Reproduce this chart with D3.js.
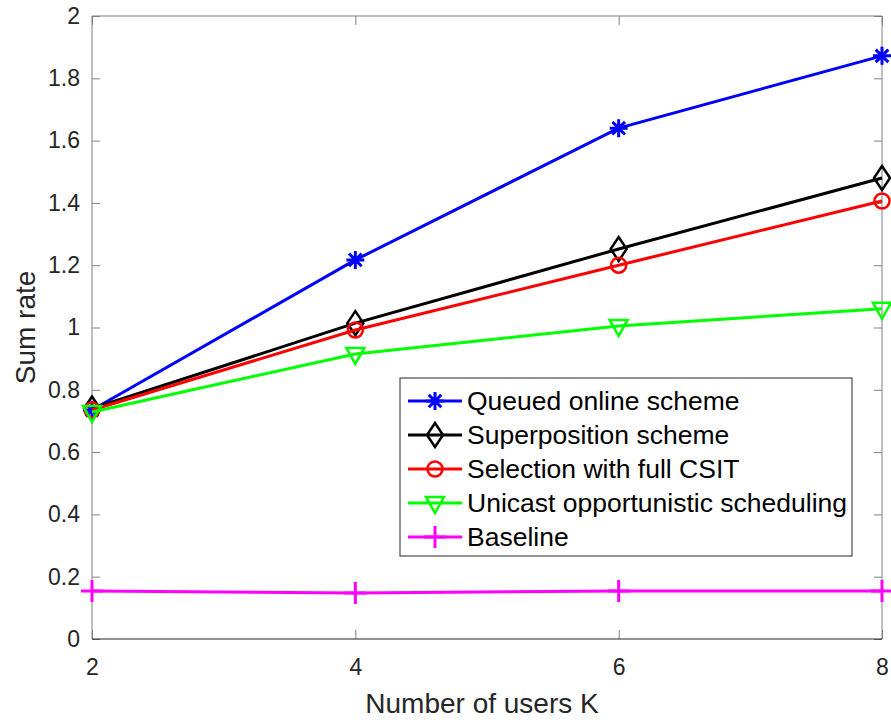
<!DOCTYPE html>
<html>
<head>
<meta charset="utf-8">
<script src="https://cdn.jsdelivr.net/npm/d3@7"></script>
<style>
  body { margin: 0; background: #fff; }
  text { font-family: "Liberation Sans", Arial, sans-serif; }
</style>
</head>
<body>
<div id="chart"></div>
<script>
// data
const users = [2, 4, 6, 8];
const queued = [0.735, 1.217, 1.64, 1.872];
const superposition = [0.74, 1.014, 1.252, 1.48];
const selection = [0.735, 0.992, 1.20, 1.406];
const unicast = [0.729, 0.915, 1.005, 1.06];
const baseline = [0.154, 0.148, 0.154, 0.154];
const xTicks = [2, 4, 6, 8];
const yTicks = [0, 0.2, 0.4, 0.6, 0.8, 1, 1.2, 1.4, 1.6, 1.8, 2];
const seriesNames = ["Queued online scheme", "Superposition scheme", "Selection with full CSIT",
                     "Unicast opportunistic scheduling", "Baseline"];

const series = [
  {name: seriesNames[0], values: queued, color: "#0000ff", marker: "star"},
  {name: seriesNames[1], values: superposition, color: "#000000", marker: "diamond"},
  {name: seriesNames[2], values: selection, color: "#ff0000", marker: "circle"},
  {name: seriesNames[3], values: unicast, color: "#00ff00", marker: "tri"},
  {name: seriesNames[4], values: baseline, color: "#ff00ff", marker: "plus"}
];

const W = 891, H = 722;
const margin = {top: 16, right: 9, bottom: 83, left: 92};
const width = W - margin.left - margin.right,
      height = H - margin.top - margin.bottom;

const svg = d3.select("#chart").append("svg")
    .attr("width", W).attr("height", H);
const g = svg.append("g")
    .attr("transform", "translate(" + margin.left + "," + margin.top + ")");

const x = d3.scaleLinear().domain([2, 8]).range([0, width]);
const y = d3.scaleLinear().domain([0, 2]).range([height, 0]);

// axes with inward ticks
const axisColor = "#262626";
function styleAxis(sel) {
  sel.select(".domain").remove();
  sel.selectAll(".tick line").attr("stroke", "#808080").attr("stroke-width", 1);
  sel.selectAll(".tick text").attr("fill", axisColor).style("font-size", "23px");
}
g.append("g").attr("transform", "translate(0," + height + ")")
  .call(d3.axisBottom(x).tickValues(xTicks).tickSize(-9).tickPadding(20).tickFormat(d3.format("d")))
  .call(styleAxis);
g.append("g")
  .call(d3.axisLeft(y).tickValues(yTicks).tickSize(-8).tickPadding(12).tickFormat(d => d3.format("")(+d.toFixed(1))))
  .call(styleAxis);
g.append("g").attr("transform", "translate(" + width + ",0)")
  .call(d3.axisRight(y).tickValues(yTicks).tickSize(-8).tickFormat(""))
  .call(styleAxis);
g.append("g")
  .call(d3.axisTop(x).tickValues(xTicks).tickSize(-9).tickFormat(""))
  .call(styleAxis);

// box
g.append("line").attr("x1", 0).attr("x2", width).attr("y1", 0).attr("y2", 0).attr("stroke", "#808080");
g.append("line").attr("x1", width).attr("x2", width).attr("y1", 0).attr("y2", height).attr("stroke", "#808080");
g.append("line").attr("x1", 0).attr("x2", 0).attr("y1", 0).attr("y2", height).attr("stroke", "#808080");
g.append("line").attr("x1", 0).attr("x2", width).attr("y1", height).attr("y2", height).attr("stroke", axisColor);

// labels
svg.append("text").attr("x", margin.left + width / 2 - 5).attr("y", 713)
  .attr("text-anchor", "middle").style("font-size", "28px").attr("fill", axisColor)
  .text("Number of users K");
svg.append("text").attr("transform", "translate(35," + (margin.top + height / 2) + ") rotate(-90)")
  .attr("text-anchor", "middle").style("font-size", "28px").attr("fill", axisColor)
  .text("Sum rate");

function drawMarker(sel, type, color) {
  const s = 9;
  if (type === "star") {
    sel.append("path").attr("d",
      "M" + -s + ",0H" + s + "M0," + -s + "V" + s +
      "M" + -s * 0.7 + "," + -s * 0.7 + "L" + s * 0.7 + "," + s * 0.7 +
      "M" + -s * 0.7 + "," + s * 0.7 + "L" + s * 0.7 + "," + -s * 0.7)
      .attr("stroke", color).attr("stroke-width", 3).attr("fill", "none");
  } else if (type === "diamond") {
    sel.append("path").attr("d", "M0,-12L8,0L0,12L-8,0Z")
      .attr("stroke", color).attr("stroke-width", 2.5).attr("fill", "none");
  } else if (type === "circle") {
    sel.append("circle").attr("r", 7.5)
      .attr("stroke", color).attr("stroke-width", 2.5).attr("fill", "none");
  } else if (type === "tri") {
    sel.append("path").attr("d", "M-9,-6L9,-6L0,10Z")
      .attr("stroke", color).attr("stroke-width", 2.5).attr("fill", "none");
  } else if (type === "plus") {
    sel.append("path").attr("d", "M-11,0H11M0,-11V11")
      .attr("stroke", color).attr("stroke-width", 3).attr("fill", "none");
  }
}

const line = d3.line().x((d, i) => x(users[i])).y(d => y(d));

series.forEach(s => {
  g.append("path").datum(s.values)
    .attr("d", line).attr("fill", "none")
    .attr("stroke", s.color).attr("stroke-width", 3);
  s.values.forEach((v, i) => {
    const m = g.append("g").attr("transform", "translate(" + x(users[i]) + "," + y(v) + ")");
    drawMarker(m, s.marker, s.color);
  });
});

// legend
const lg = svg.append("g").attr("transform", "translate(400,378)");
lg.append("rect").attr("width", 452).attr("height", 178)
  .attr("fill", "#fff").attr("stroke", axisColor).attr("stroke-width", 1);
series.forEach((s, i) => {
  const yy = 23 + i * 34;
  lg.append("line").attr("x1", 8).attr("x2", 62).attr("y1", yy).attr("y2", yy)
    .attr("stroke", s.color).attr("stroke-width", 3);
  const m = lg.append("g").attr("transform", "translate(35," + yy + ")");
  drawMarker(m, s.marker, s.color);
  lg.append("text").attr("x", 67).attr("y", yy + 9)
    .style("font-size", "26.5px").attr("fill", "#000").text(s.name);
});
</script>
</body>
</html>
